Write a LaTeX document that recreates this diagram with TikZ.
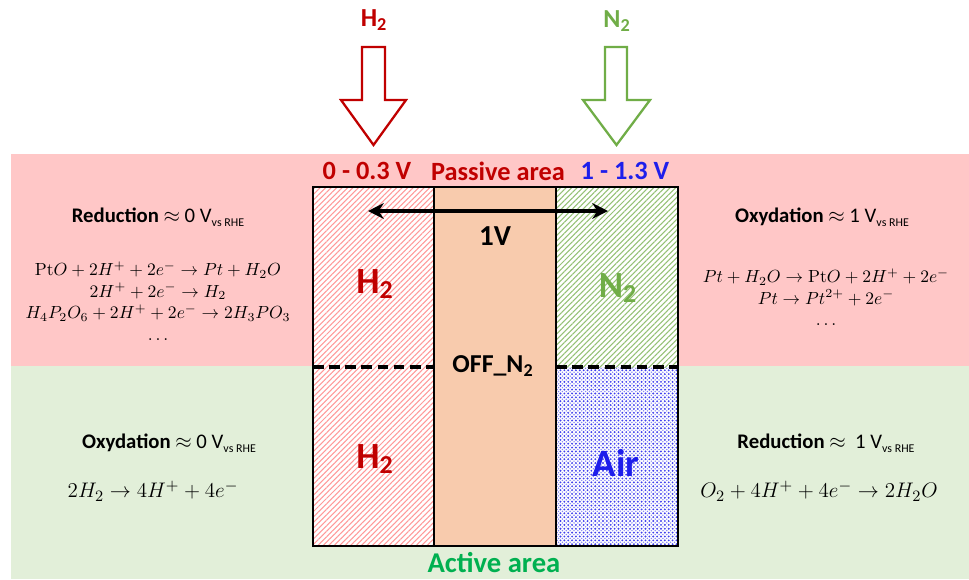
\documentclass[tikz,border=0pt]{standalone}
\usepackage[no-math]{fontspec}
\setmainfont{Carlito}
\usepackage{xcolor}
\usepackage{tikz}
\usetikzlibrary{arrows.meta,patterns.meta,positioning}
\definecolor{passBand}{RGB}{255,199,199}
\definecolor{actBand}{RGB}{226,239,217}
\definecolor{gasH}{RGB}{192,0,0}
\definecolor{gasN}{RGB}{112,173,71}
\definecolor{gasAir}{RGB}{30,30,235}
\definecolor{actGreen}{RGB}{0,176,80}
\definecolor{membr}{RGB}{248,203,173}
\newcommand{\Vrhe}{V\raisebox{-0.45ex}{\fontsize{6.8}{7}\selectfont vs RHE}}
\newcommand{\fs}[1]{\fontsize{#1}{#1}\selectfont}

\begin{document}
\begin{tikzpicture}[x=0.02cm,y=-0.02cm,
  gaslbl/.style={font=\fs{14.8}\bfseries},
  biglbl/.style={font=\fs{21}\bfseries},
  arealbl/.style={font=\fs{15}\bfseries},
  headlbl/.style={font=\fs{11.8}},
  eqsmall/.style={align=center,font=\fontsize{9.7}{12.2}\selectfont},
  eqbig/.style={font=\fs{12.8}},
  cellline/.style={line width=1.4pt}]
\useasboundingbox (0,0) rectangle (969,579);

%─── Background bands ───────────────────────────────────────────────────────
\fill[passBand] (11,154) rectangle (969,366);
\fill[actBand] (11,366) rectangle (969,579);

%─── Gas inlets ─────────────────────────────────────────────────────────────
\node[gaslbl,text=gasH] (inH) at (374,20) {H\textsubscript{2}};
\node[gaslbl,text=gasN] (inN) at (617,21) {N\textsubscript{2}};
\draw[gasH,line width=1.3pt,fill=white,line join=miter]
  (362,47) -- (385,47) -- (385,100) -- (406,100) -- (373.5,145)
  -- (341,100) -- (362,100) -- cycle;
\draw[gasN,line width=1.3pt,fill=white,line join=miter]
  (605,47) -- (627,47) -- (627,100) -- (650,100) -- (616.5,145)
  -- (583,100) -- (605,100) -- cycle;

%─── Cell: anode, membrane, cathode ────────────────────────────────────────
\fill[white] (313,187) rectangle (434,546);
\fill[pattern={Lines[angle=45,distance=2.2pt,line width=0.6pt]},pattern color=red!40]
  (313,187) rectangle (434,546);
\fill[membr] (434,187) rectangle (556,546);
\fill[white] (556,187) rectangle (678,546);
\fill[pattern={Lines[angle=45,distance=2.2pt,line width=0.6pt]},pattern color=gasN!75]
  (556,187) rectangle (678,367);
\fill[pattern={Dots[radius=0.6pt,distance=2.2pt]},pattern color=gasAir!85]
  (556,367) rectangle (678,546);
\fill[pattern={Dots[radius=0.45pt,distance=2.2pt,xshift=1.1pt,yshift=1.1pt]},pattern color=gasAir!55]
  (556,367) rectangle (678,546);
\draw[cellline] (313,187) rectangle (678,546);
\draw[cellline] (434,187) -- (434,546);
\draw[cellline] (556,187) -- (556,546);
\draw[line width=1.8pt,dash pattern=on 6pt off 3.2pt] (313,367) -- (434,367);
\draw[line width=1.8pt,dash pattern=on 6pt off 3.2pt] (556,367) -- (678,367);

%─── Cell labels ────────────────────────────────────────────────────────────
\node[arealbl,text=gasH] (lowV) at (367,171) {0 - 0.3 V};
\node[arealbl,text=gasH] (passive) at (498,171) {Passive area};
\node[arealbl,text=gasAir] (highV) at (625,171) {1 - 1.3 V};
\coordinate (vL) at (368,211);
\coordinate (vR) at (608,211);
\draw[{Stealth[length=9pt,width=9pt]}-{Stealth[length=9pt,width=9pt]},line width=2pt]
  (vL) -- (vR);
\node[font=\fs{16.5}\bfseries] (oneV) at (495,236) {1V};
\node[biglbl,text=gasH] (anTop) at (375,284) {H\textsubscript{2}};
\node[biglbl,text=gasN] (caTop) at (618,288) {N\textsubscript{2}};
\node[font=\fs{14.7}\bfseries] (offN) at (493,366) {OFF\_N\textsubscript{2}};
\node[biglbl,text=gasH] (anBot) at (375,459) {H\textsubscript{2}};
\node[font=\fs{22}\bfseries,text=gasAir] (caBot) at (616,463) {Air};
\node[font=\fs{16.3}\bfseries,text=actGreen] (active) at (494,563) {Active area};

%─── Passive area reactions ────────────────────────────────────────────────
\node[headlbl] (redL) at (158,217) {\textbf{Reduction} $\approx$ 0 \Vrhe};
\node[eqsmall] (redLeq) at (158,301)
  {$\mathrm{Pt}O + 2H^{+} + 2e^{-} \rightarrow Pt + H_2O$\\
   $2H^{+} + 2e^{-} \rightarrow H_2$\\
   $H_4P_2O_6 + 2H^{+} + 2e^{-} \rightarrow 2H_3PO_3$\\
   $\dots$};
\node[headlbl] (oxR) at (822,217) {\textbf{Oxydation} $\approx$ 1 \Vrhe};
\node[eqsmall] (oxReq) at (826,297)
  {$Pt + H_2O \rightarrow \mathrm{Pt}O + 2H^{+} + 2e^{-}$\\
   $Pt \rightarrow Pt^{2+} + 2e^{-}$\\
   $\dots$};

%─── Active area reactions ─────────────────────────────────────────────────
\node[headlbl] (oxL) at (169,443) {\textbf{Oxydation} $\approx$ 0 \Vrhe};
\node[eqbig] (oxLeq) at (153,491) {$2H_2 \rightarrow 4H^{+} + 4e^{-}$};
\node[headlbl] (redR) at (826,443) {\textbf{Reduction} $\approx$~~1 \Vrhe};
\node[eqbig] (redReq) at (819,491) {$O_2 + 4H^{+} + 4e^{-} \rightarrow 2H_2O$};

\end{tikzpicture}
\end{document}
